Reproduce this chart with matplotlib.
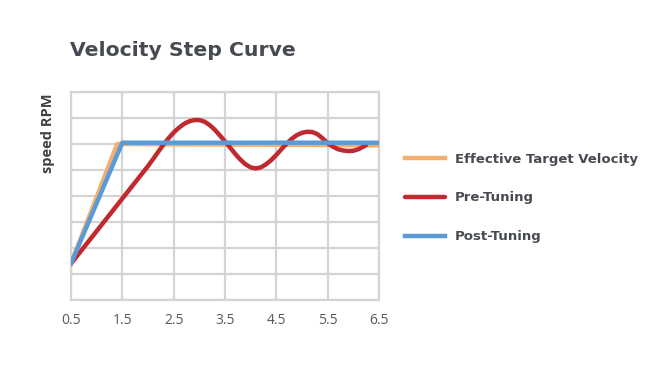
import matplotlib
matplotlib.use("Agg")
import matplotlib.pyplot as plt

plt.rcParams['font.family'] = ['Open Sans', 'DejaVu Sans']

x_ticks = [0.5, 1.5, 2.5, 3.5, 4.5, 5.5, 6.5]
tick_labels = ["0.5", "1.5", "2.5", "3.5", "4.5", "5.5", "6.5"]

target_x = [0.5, 1.4, 6.5]
target_y = [1.4, 6.0, 5.95]

post_x = [0.5, 1.5, 6.5]
post_y = [1.4, 6.05, 6.05]

pre_x = [0.5, 1.0, 1.5, 2.0, 2.1, 2.2, 2.3, 2.4, 2.5, 2.6, 2.7, 2.8, 2.9, 3.0,
         3.1, 3.2, 3.3, 3.4, 3.5, 3.6, 3.7, 3.8, 3.9, 4.0, 4.1, 4.2, 4.3, 4.4,
         4.5, 4.6, 4.7, 4.8, 4.9, 5.0, 5.1, 5.2, 5.3, 5.4, 5.5, 5.6, 5.7, 5.8,
         5.9, 6.0, 6.1, 6.2, 6.25]
pre_y = [1.4, 2.65, 3.9, 5.15, 5.42, 5.70, 5.97, 6.22, 6.44, 6.62, 6.77, 6.87, 6.92, 6.92,
         6.86, 6.73, 6.55, 6.33, 6.10, 5.86, 5.62, 5.40, 5.22, 5.10, 5.06, 5.10, 5.22, 5.38,
         5.58, 5.80, 6.01, 6.20, 6.34, 6.43, 6.47, 6.46, 6.38, 6.22, 6.03, 5.90, 5.80, 5.75,
         5.73, 5.74, 5.80, 5.90, 5.96]

fig = plt.figure(figsize=(6.59, 3.65), dpi=100)
ax = fig.add_axes([0.1077, 0.178, 0.4674, 0.570])

ax.plot(target_x, target_y, color='#F4AE6E', lw=3.2, label='Effective Target Velocity',
        solid_joinstyle='round', zorder=3)
ax.plot(pre_x, pre_y, color='#C0292D', lw=3.2, label='Pre-Tuning',
        solid_joinstyle='round', solid_capstyle='round', zorder=4)
ax.plot(post_x, post_y, color='#5B9BD5', lw=3.2, label='Post-Tuning',
        solid_joinstyle='round', zorder=5)

ax.set_xlim(0.5, 6.5)
ax.set_ylim(0, 8)
ax.set_xticks(x_ticks)
ax.set_xticklabels(tick_labels)
ax.set_yticks(range(0, 9))
ax.set_yticklabels([])
ax.tick_params(length=0, labelsize=10, labelcolor='#595959', pad=9)
ax.grid(True, color='#D4D4D4', lw=1.6)
for s in ax.spines.values():
    s.set_color('#D4D4D4')
    s.set_linewidth(1.6)

ax.set_ylabel('speed RPM', fontsize=10.5, fontweight='bold', color='#404040')
ax.yaxis.set_label_coords(-0.052, 0.80)

fig.text(0.106, 0.863, 'Velocity Step Curve', fontsize=14.7, fontweight='bold',
         family='DejaVu Sans', color='#474B51', ha='left', va='center')

leg = fig.legend(loc='upper left', bbox_to_anchor=(0.5964, 0.614), frameon=False,
                 handlelength=3.03, labelspacing=1.95, handletextpad=0.76,
                 prop={'size': 9.5, 'weight': 'bold', 'family': 'DejaVu Sans'})
for t in leg.get_texts():
    t.set_color('#474B51')

fig.savefig('out.png', dpi=100)
